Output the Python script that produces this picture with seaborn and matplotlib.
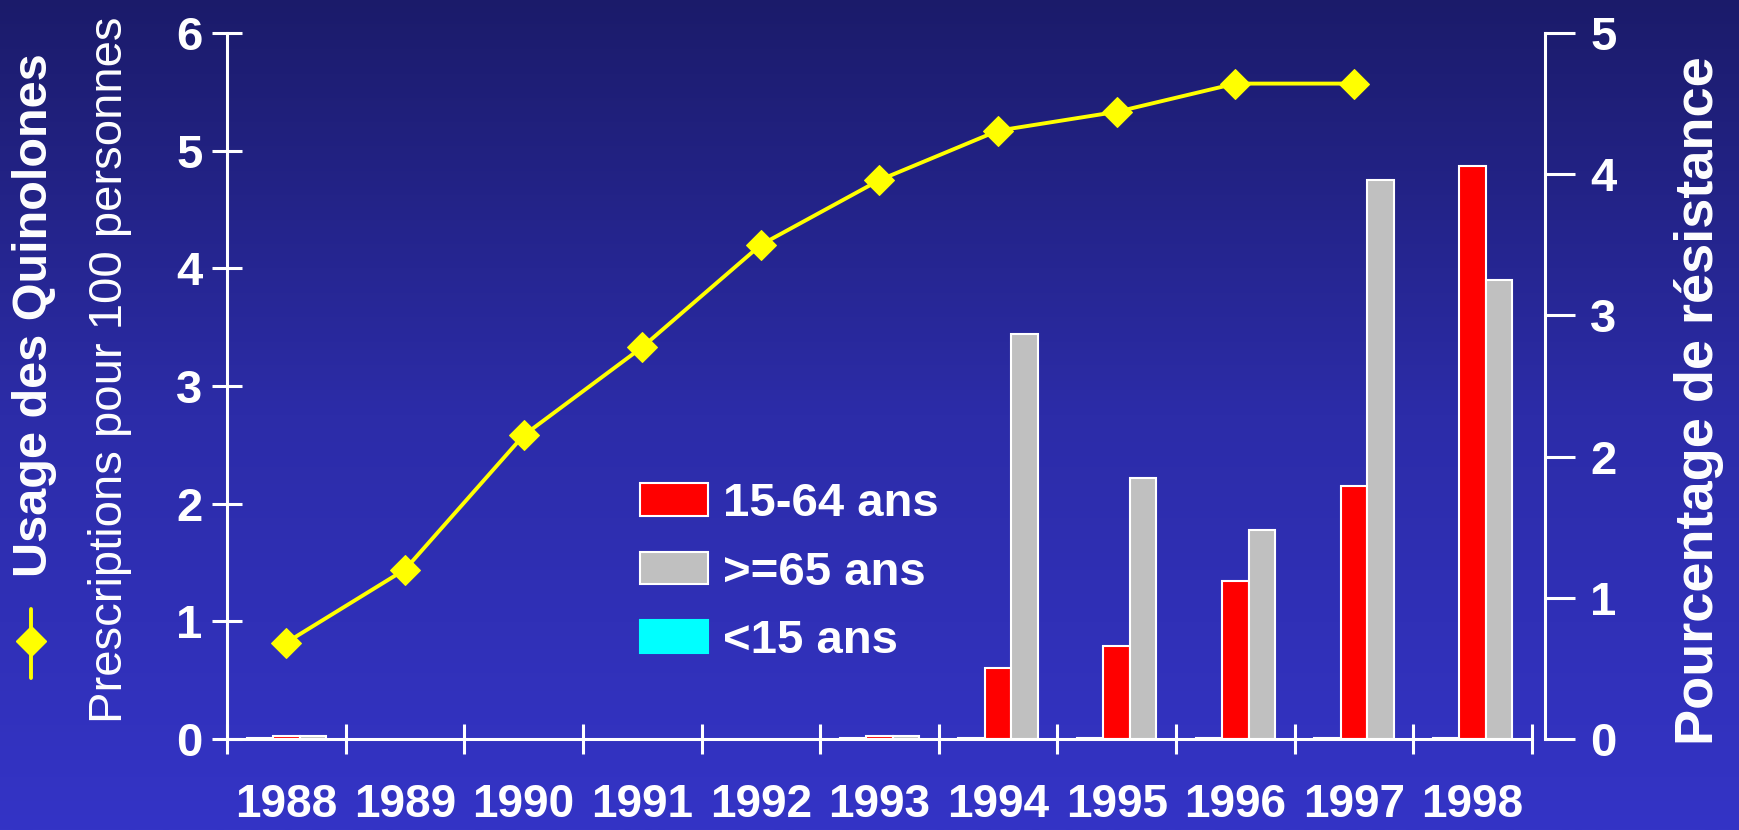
import numpy as np
import pandas as pd
import matplotlib
matplotlib.use("Agg")
import matplotlib.pyplot as plt
from matplotlib.lines import Line2D
from matplotlib.patches import Patch
import seaborn as sns

# ---------------- data ----------------
years = ['1988', '1989', '1990', '1991', '1992', '1993',
         '1994', '1995', '1996', '1997', '1998']
# quinolone usage (prescriptions / 100 persons), left axis
usage = [0.82, 1.44, 2.58, 3.33, 4.20, 4.75, 5.17, 5.33, 5.57, 5.57, np.nan]
# resistance percentage by age group, right axis
res_lt15 = [0.01, np.nan, np.nan, np.nan, np.nan, 0.01, 0.01, 0.01, 0.01, 0.01, 0.01]
res_15_64 = [0.02, np.nan, np.nan, np.nan, np.nan, 0.02, 0.50, 0.66, 1.12, 1.79, 4.06]
res_ge65 = [0.02, np.nan, np.nan, np.nan, np.nan, 0.02, 2.87, 1.85, 1.48, 3.96, 3.25]

groups = ['<15 ans', '15-64 ans', '>=65 ans']
group_colors = ['#00ffff', '#ff0000', '#c0c0c0']
legend_order = ['15-64 ans', '>=65 ans', '<15 ans']

left_ticks = [0, 1, 2, 3, 4, 5, 6]
right_ticks = [0, 1, 2, 3, 4, 5]

# long table for seaborn
bars = pd.DataFrame({
    'year': years * 3,
    'group': [groups[0]] * len(years) + [groups[1]] * len(years) + [groups[2]] * len(years),
    'value': res_lt15 + res_15_64 + res_ge65,
}).dropna()

line = pd.DataFrame({'pos': np.arange(len(years)), 'usage': usage}).dropna()

# ---------------- style ----------------
sns.set_theme(style='ticks')
plt.rcParams['font.family'] = ['Liberation Sans', 'DejaVu Sans']
W = 'white'

fig = plt.figure(figsize=(17.39, 8.30), dpi=100)

# gradient background
bg = fig.add_axes([0, 0, 1, 1], zorder=-10)
top = np.array([27, 27, 106]) / 255
mid = np.array([44, 44, 168]) / 255
bot = np.array([52, 52, 198]) / 255
t = np.linspace(0, 1, 300)[:, None]
grad = np.where(t < 0.5, top + (mid - top) * (t / 0.5), mid + (bot - mid) * ((t - 0.5) / 0.5))
bg.imshow(grad[:, None, :], aspect='auto', extent=[0, 1, 0, 1])
bg.set_axis_off()

ax = fig.add_axes([227 / 1739, 1 - 739 / 830, (1545 - 227) / 1739, (739 - 33) / 830])
ax2 = ax.twinx()

# bars on the right axis
sns.barplot(data=bars, x='year', y='value', hue='group', order=years,
            hue_order=groups, palette=group_colors, saturation=1, width=0.67,
            errorbar=None, edgecolor=W, linewidth=1.5, ax=ax2, legend=False)

# usage line on the left axis
sns.lineplot(data=line, x='pos', y='usage', ax=ax, color='#ffff00',
             linewidth=2.8, marker='D', markersize=15, markeredgecolor='#ffff00')

ax.set_zorder(ax2.get_zorder() + 1)
ax.patch.set_visible(False)
ax2.patch.set_visible(False)

for a in (ax, ax2):
    a.set_xlim(-0.5, 10.61)
    a.set_xlabel('')
    a.set_ylabel('')
    a.grid(False)

ax.set_ylim(0, 6)
ax2.set_ylim(0, 5)

# spines
for s in ['top', 'right']:
    ax.spines[s].set_visible(False)
for s in ['top', 'left', 'bottom']:
    ax2.spines[s].set_visible(False)
ax.spines['left'].set_color(W)
ax.spines['bottom'].set_color(W)
ax2.spines['right'].set_color(W)
for sp in (ax.spines['left'], ax.spines['bottom'], ax2.spines['right']):
    sp.set_linewidth(2.2)
ax.spines['bottom'].set_bounds(-0.5, 10.5)

# x ticks: labels at centres, marks at category edges
ax.set_xticks(np.arange(len(years)))
ax.set_xticklabels(years)
ax.set_xticks(np.arange(len(years) + 1) - 0.5, minor=True)
ax.tick_params(axis='x', which='major', length=0, pad=32, labelsize=33,
               labelcolor=W)
ax.tick_params(axis='x', which='minor', direction='inout', length=21,
               width=2.2, color=W)
for lab in ax.get_xticklabels():
    lab.set_fontweight('bold')

ax2.tick_params(axis='x', which='both', bottom=False, labelbottom=False)

# left y ticks
ax.set_yticks(left_ticks)
ax.tick_params(axis='y', which='major', direction='inout', length=21, width=2.2,
               color=W, labelcolor=W, labelsize=34, pad=7)
for lab in ax.get_yticklabels():
    lab.set_fontweight('bold')

# right y ticks
ax2.set_yticks(right_ticks)
ax2.tick_params(axis='y', which='major', direction='out', length=21.5, width=2.2,
                color=W, labelcolor=W, labelsize=34, pad=11)
for lab in ax2.get_yticklabels():
    lab.set_fontweight('bold')

# axis titles
fig.text(0.020, 0.620, 'Usage des Quinolones', rotation=90, ha='center', va='center',
         color=W, fontsize=35, fontweight='bold')
fig.text(0.063, 0.555, 'Prescriptions pour 100 personnes', rotation=90, ha='center',
         va='center', color=W, fontsize=34)
fig.text(0.977, 0.517, 'Pourcentage de résistance', rotation=90, ha='center',
         va='center', color=W, fontsize=39, fontweight='bold')

# line legend key next to the left title
kx = 31 / 1739
fig.add_artist(Line2D([kx, kx], [1 - 609 / 830, 1 - 678 / 830], transform=fig.transFigure,
                      color='#ffff00', linewidth=2.8))
fig.add_artist(Line2D([kx], [1 - 641 / 830], transform=fig.transFigure, marker='D',
                      markersize=15, color='#ffff00', linestyle='none'))

# bar legend
color_of = dict(zip(groups, group_colors))
handles = [Patch(facecolor=color_of[g], edgecolor=(W if g != '<15 ans' else color_of[g]),
                 linewidth=1.5, label=g) for g in legend_order]
leg = ax2.legend(handles=handles, loc='upper left', bbox_to_anchor=(0.313, 0.364),
                 frameon=False, fontsize=34, handlelength=1.44, handleheight=0.68,
                 handletextpad=0.32, labelspacing=0.52, borderpad=0, borderaxespad=0)
for txt in leg.get_texts():
    txt.set_color(W)
    txt.set_fontweight('bold')

fig.savefig('out.png', dpi=100)
